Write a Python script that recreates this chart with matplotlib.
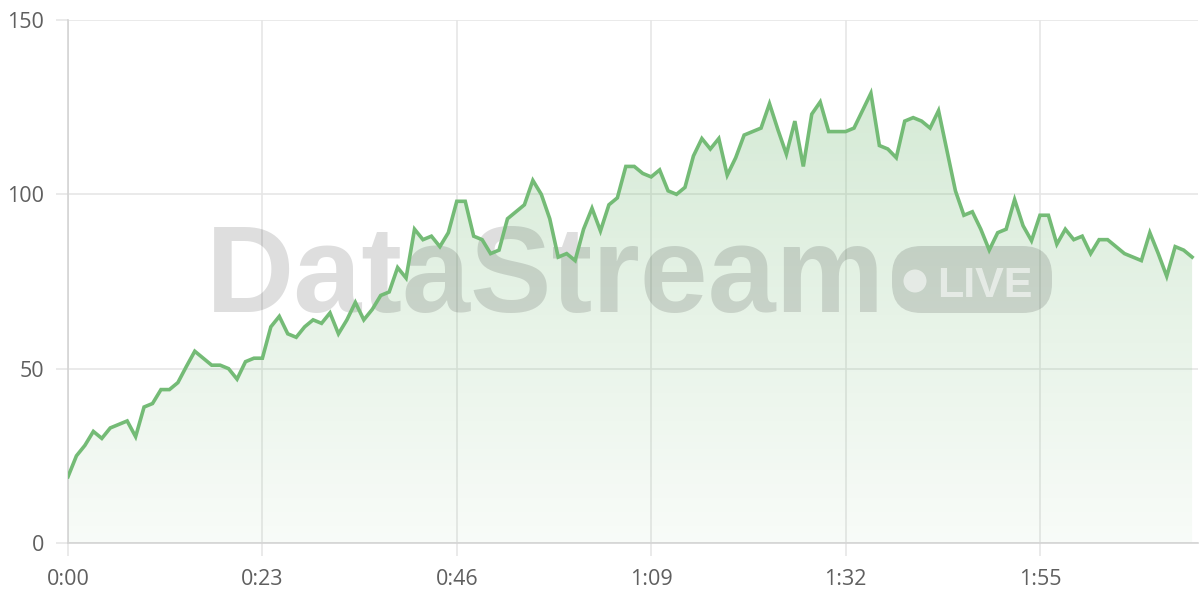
import matplotlib
matplotlib.use("Agg")
import matplotlib.pyplot as plt
import numpy as np
from matplotlib.patches import FancyBboxPatch, Ellipse
from matplotlib.colors import LinearSegmentedColormap

# one reading per second, 0:00 .. 2:13
values = [19, 25, 28, 32, 30, 33, 34, 35, 30.5, 39, 40, 44, 44, 46, 50.6, 55, 53, 51, 51, 50,
          47, 52, 53, 53, 62, 65, 60, 59, 62, 64, 63, 66, 60, 64, 69, 64, 67, 71, 72, 79,
          76, 90, 87, 88, 85, 89, 98, 98, 88, 87, 83, 84, 93, 95, 97, 104, 100, 93, 82, 83,
          81, 90, 96, 89.5, 97, 99, 108, 108, 106, 105, 107, 101, 100, 102, 111, 116, 113, 116, 105.5, 110.5,
          117, 118, 119, 126, 118.5, 111.5, 121, 108, 123, 126.5, 118, 118, 118, 119, 124, 129, 114, 113, 110.5, 121,
          122, 121, 119, 124, 112.5, 101, 94, 95, 90, 84, 89, 90, 98.5, 91, 86.7, 94, 94, 85.7, 90, 87,
          88, 83, 87, 87, 85, 83, 82, 81, 89, 83, 76.5, 85, 84, 82]
seconds = np.arange(len(values))
tick_secs = [0, 23, 46, 69, 92, 115]
tick_labels = ["0:00", "0:23", "0:46", "1:09", "1:32", "1:55"]
y_ticks = [0, 50, 100, 150]

line_col = "#74bb76"
grid_col = "#e6e6e6"
text_col = "#5f5f5f"

plt.rcParams['font.family'] = ['Open Sans', 'DejaVu Sans']

fig = plt.figure(figsize=(12, 6), dpi=100)
ax = fig.add_axes([68/1200, 1 - 543/600, 1130/1200, 523/600])
ax.set_xlim(0, 133.7)
ax.set_ylim(0, 150)

# gradient fill under the line
top = max(values)
cmap = LinearSegmentedColormap.from_list("g", [(0.455, 0.733, 0.463, 0.05), (0.455, 0.733, 0.463, 0.30)])
grad = np.linspace(0, 1, 256).reshape(-1, 1)
im = ax.imshow(grad, cmap=cmap, origin="lower", aspect="auto",
               extent=[0, seconds[-1], 0, top], zorder=1)
poly = ax.fill_between(seconds, values, 0, color="none", lw=0)
clip = poly.get_paths()[0]
im.set_clip_path(clip, transform=ax.transData)

# watermark (axes fractions from pixel positions)
W, H = 1130, 523
ax.text((545-68)/W, (543-312)/H, "DataStream", transform=ax.transAxes, ha="center", va="baseline",
        fontsize=88, fontweight="bold", family="Liberation Sans", color="black", alpha=0.13, zorder=2)
badge = FancyBboxPatch((824/W, (543-313)/H), 160/W, 67/H, transform=ax.transAxes,
                       boxstyle="round,pad=0,rounding_size=0.026", fc="black", ec="none", alpha=0.13,
                       mutation_aspect=W/H, zorder=2)
ax.add_patch(badge)
ax.add_patch(Ellipse(((915-68)/W, (543-281)/H), 23/W, 23/H, transform=ax.transAxes, fc="white",
                     ec="none", alpha=0.55, zorder=2.5))
ax.text(869/W, (543-297)/H, "LIVE", transform=ax.transAxes, ha="left", va="baseline",
        fontsize=31, fontweight="bold", family="Liberation Sans", color="white", alpha=0.55, zorder=2.5)

ax.plot(seconds, values, color=line_col, lw=2.6, solid_joinstyle="miter", zorder=4)

ax.set_xticks(tick_secs)
ax.set_xticklabels(tick_labels)
ax.set_yticks(y_ticks)
ax.grid(True, color=grid_col, lw=1.2, zorder=0)
ax.set_axisbelow(True)
for s in ["top", "right"]:
    ax.spines[s].set_visible(False)
ax.spines["left"].set_color("#d4d4d4")
ax.spines["bottom"].set_color("#d4d4d4")
ax.spines["left"].set_linewidth(1.2)
ax.spines["bottom"].set_linewidth(1.2)
ax.tick_params(axis="both", colors=grid_col, labelcolor=text_col, labelsize=15.5, length=9, width=1.2)
ax.tick_params(axis="x", pad=10)
ax.tick_params(axis="y", pad=8)

fig.savefig("out.png", dpi=100)
